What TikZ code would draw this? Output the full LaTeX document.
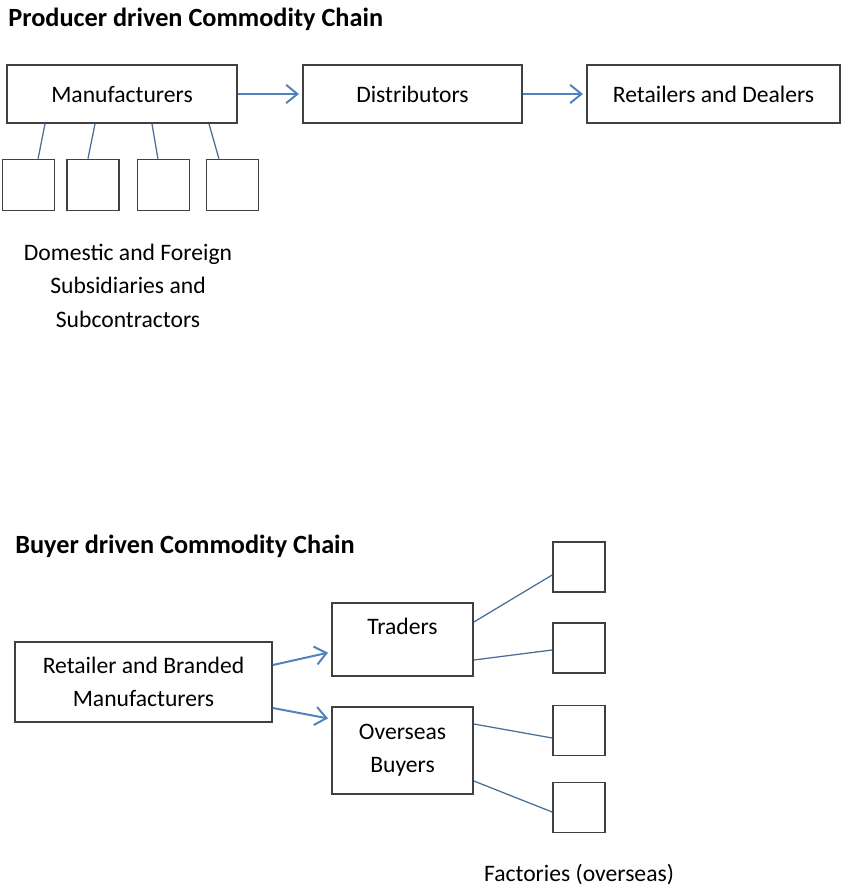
\documentclass[tikz,border=0pt]{standalone}
\usepackage{fontspec}
\setmainfont{Carlito}
\usetikzlibrary{arrows.meta}
\definecolor{arrowblue}{HTML}{4F81BD}
\definecolor{linkblue}{HTML}{4A6F96}

\begin{document}
\begin{tikzpicture}[
  box/.style={draw=black!75, line width=1.2pt, inner sep=0pt, align=center, font=\fontsize{16.8}{23.5}\selectfont},
  smallbox/.style={draw=black!75, line width=1.2pt, minimum width=1.3cm, minimum height=1.275cm, inner sep=0pt},
  flow/.style={-{Straight Barb[length=8pt,width=13pt]}, line width=1.4pt, arrowblue, shorten >=0.08cm},
  link/.style={line width=0.9pt, linkblue},
  caption/.style={font=\fontsize{16.8}{23.5}\selectfont, align=center, inner sep=0pt},
  heading/.style={font=\bfseries\fontsize{18.7}{22}\selectfont, inner sep=0pt}
]
\useasboundingbox (0,0) rectangle (21.1,-22.15);

% producer driven chain
\node[heading, anchor=base west] (ptitle) at (0.2,-0.675) {Producer driven Commodity Chain};
\node[box, minimum width=5.75cm, minimum height=1.45cm] (manu) at (3.05,-2.35) {Manufacturers};
\node[box, minimum width=5.475cm, minimum height=1.45cm] (dist) at (10.3125,-2.35) {Distributors};
\node[box, minimum width=6.325cm, minimum height=1.45cm] (retail) at (17.8375,-2.35) {Retailers and Dealers};

\draw[flow] (manu) -- (dist);
\draw[flow] (dist) -- (retail);

\foreach \i/\x in {1/0.7125, 2/2.325, 3/4.0875, 4/5.8125}
  \node[smallbox] (sub\i) at (\x,-4.625) {};
\foreach \i/\a/\b in {1/-1.925/0.24, 2/-0.675/-0.125, 3/0.75/-0.14, 4/2.175/-0.34}
  \draw[link] ([xshift=\a cm]manu.south) -- ([xshift=\b cm]sub\i.north);

\node[caption, anchor=base] (subtext) at (3.2,-8.175) {Domestic and Foreign\\Subsidiaries and\\Subcontractors};

% buyer driven chain
\node[heading, anchor=base west] (btitle) at (0.375,-13.825) {Buyer driven Commodity Chain};
\node[box, minimum width=6.425cm, minimum height=2cm] (brand) at (3.5875,-17.05) {Retailer and Branded\\Manufacturers};
\node[box, minimum width=3.525cm, minimum height=1.825cm, text depth=0.65cm] (traders) at (10.0625,-15.9875) {Traders};
\node[box, minimum width=3.525cm, minimum height=2.175cm] (overseas) at (10.0625,-18.7625) {Overseas\\Buyers};

\foreach \i/\y in {1/-14.175, 2/-16.2, 3/-18.2625, 4/-20.1875}
  \node[smallbox, minimum height=1.25cm] (fac\i) at (14.475,\y) {};

\draw[flow] ([yshift=0.425cm]brand.east) -- ([yshift=-0.3125cm]traders.west);
\draw[flow] ([yshift=-0.65cm]brand.east) -- ([yshift=0.7875cm]overseas.west);

\draw[link] ([yshift=0.4375cm]traders.east) -- ([yshift=-0.2cm]fac1.west);
\draw[link] ([yshift=-0.5125cm]traders.east) -- ([yshift=-0.05cm]fac2.west);
\draw[link] ([yshift=0.6625cm]overseas.east) -- ([yshift=-0.1875cm]fac3.west);
\draw[link] ([yshift=-0.7625cm]overseas.east) -- ([yshift=-0.1125cm]fac4.west);

\node[caption, anchor=base] (factext) at ([yshift=-1.2cm]fac4.south) {Factories (overseas)};
\end{tikzpicture}
\end{document}
